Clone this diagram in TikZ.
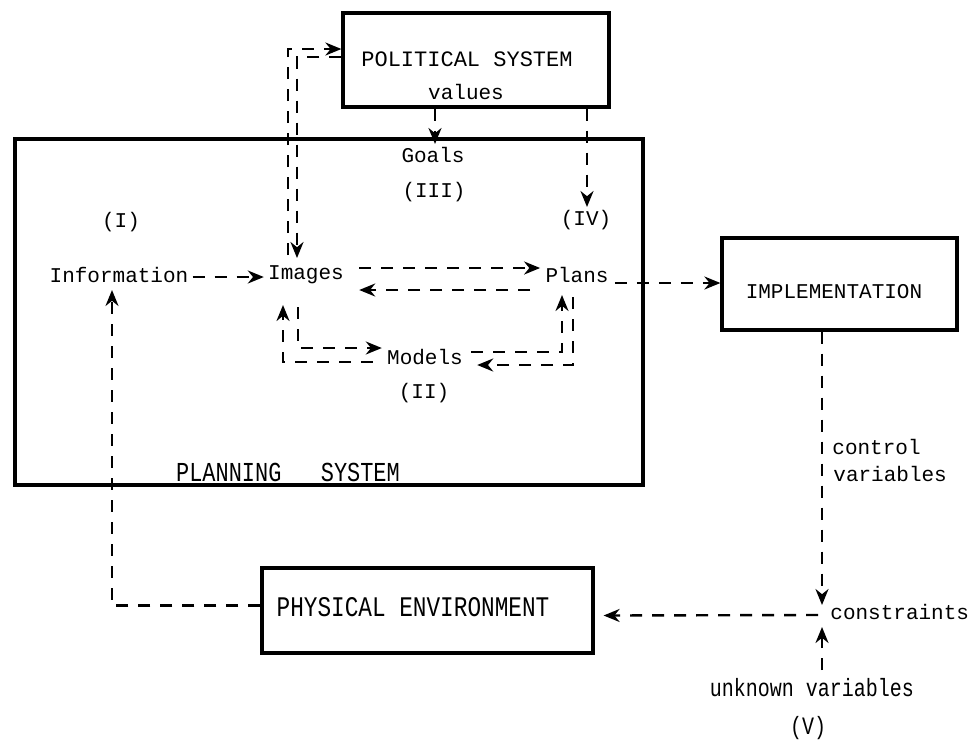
\documentclass[tikz,border=0pt]{standalone}
\usepackage{fontspec}
\usetikzlibrary{arrows.meta,calc}
\newfontfamily\tw{Liberation Mono}
\newfontfamily\twc{Liberation Mono}[FakeStretch=0.8]
\begin{document}
\begin{tikzpicture}[x=0.5pt,y=-0.5pt,
  boxnode/.style={draw,line width=1.6pt,inner sep=0pt},
  txt/.style={inner sep=0pt,font=\tw\fontsize{10.5}{12}\selectfont},
  ctxt/.style={inner sep=0pt,font=\twc\fontsize{12.5}{14}\selectfont},
  conn/.style={line width=1.2pt,dash pattern=on 6pt off 5pt},
  arr/.style={conn,-{Stealth[length=8pt,width=6.5pt]}}]
\useasboundingbox (0,0) rectangle (974,741);
% boxes
\node[boxnode,minimum width=133pt,minimum height=47pt] (pol) at (476,60) {};
\node[boxnode,minimum width=314pt,minimum height=173pt] (plan) at (329,312) {};
\node[boxnode,minimum width=117.5pt,minimum height=46pt] (impl) at (839.5,284) {};
\node[boxnode,minimum width=165.5pt,minimum height=42.5pt] (phys) at (427.5,610.5) {};
% texts
\node[txt,font=\tw\fontsize{11}{13}\selectfont] (poltitle) at (467,59) {POLITICAL SYSTEM};
\node[txt] (values) at (466,92) {values};
\node[txt] (goals) at (433,155) {Goals};
\node[txt] (iii) at (434,192) {(III)};
\node[txt] (iv) at (586,220) {(IV)};
\node[txt] (i) at (121,222) {(I)};
\node[txt] (info) at (119,275) {Information};
\node[txt] (images) at (306,275) {Images};
\node[txt] (plans) at (577,275) {Plans};
\node[txt] (models) at (425,357) {Models};
\node[txt] (ii) at (424,393) {(II)};
\node[ctxt,font=\twc\fontsize{13.7}{16}\selectfont] (plantitle) at (288,472) {PLANNING\ \ \ SYSTEM};
\node[txt] (impltitle) at (834,292) {IMPLEMENTATION};
\node[ctxt,font=\twc\fontsize{14.2}{16}\selectfont] (phystitle) at (413,607) {PHYSICAL ENVIRONMENT};
\node[txt,anchor=west] (control) at (832,447) {control};
\node[txt,anchor=west] (variables) at (833,474) {variables};
\node[txt,anchor=west] (cons) at (830,612) {constraints};
\node[ctxt] (unk) at (812,688) {unknown variables};
\node[ctxt] (v) at (808,728) {(V)};
% connectors
\draw[arr] ($(info.east)+(4,2)$) -- ($(images.west)+(-4,2)$);
\draw[arr] ($(images.east)+(15,-7)$) -- ($(plans.west)+(-5,-7)$);
\draw[arr] ($(plans.west)+(-15,15)$) -- ($(images.east)+(15,15)$);
\draw[arr] ($(images)+(-8,32)$) |- ($(models.west)+(-5,-9)$);
\draw[arr] ($(models.west)+(-14,5)$) -| ($(images)+(-23,30)$);
\draw[arr] ($(models.east)+(8,-5)$) -| ($(plans)+(-15,20)$);
\draw[arr] ($(plans)+(-4,22)$) |- ($(models.east)+(14,8)$);
\draw[arr] ($(images)+(-18,-20)$) |- ($(pol.west)+(0,-11)$);
\draw[arr] ($(pol.west)+(0,-3)$) -| ($(images)+(-9,-17)$);
\draw[arr] ($(pol.south)+(-41,0)$) -- ($(goals)+(2,-11)$);
\draw[arr] ($(pol.south)+(111,0)$) -- ($(iv)+(1,-13)$);
\draw[arr] ($(plans.east)+(6,8)$) -- ($(impl.west)+(0,-1)$);
\draw[arr] ($(impl.south)+(-17.5,0)$) -- ($(cons.west)+(-8,-7)$);
\draw[arr] ($(unk)+(10,-18)$) -- ($(cons.west)+(-8,15)$);
\draw[arr] ($(cons.west)+(-12,3)$) -- ($(phys.east)+(9,5)$);
\draw[arr] ($(phys.west)+(0,-5)$) -| ($(info)+(-7,15)$);
\end{tikzpicture}
\end{document}
